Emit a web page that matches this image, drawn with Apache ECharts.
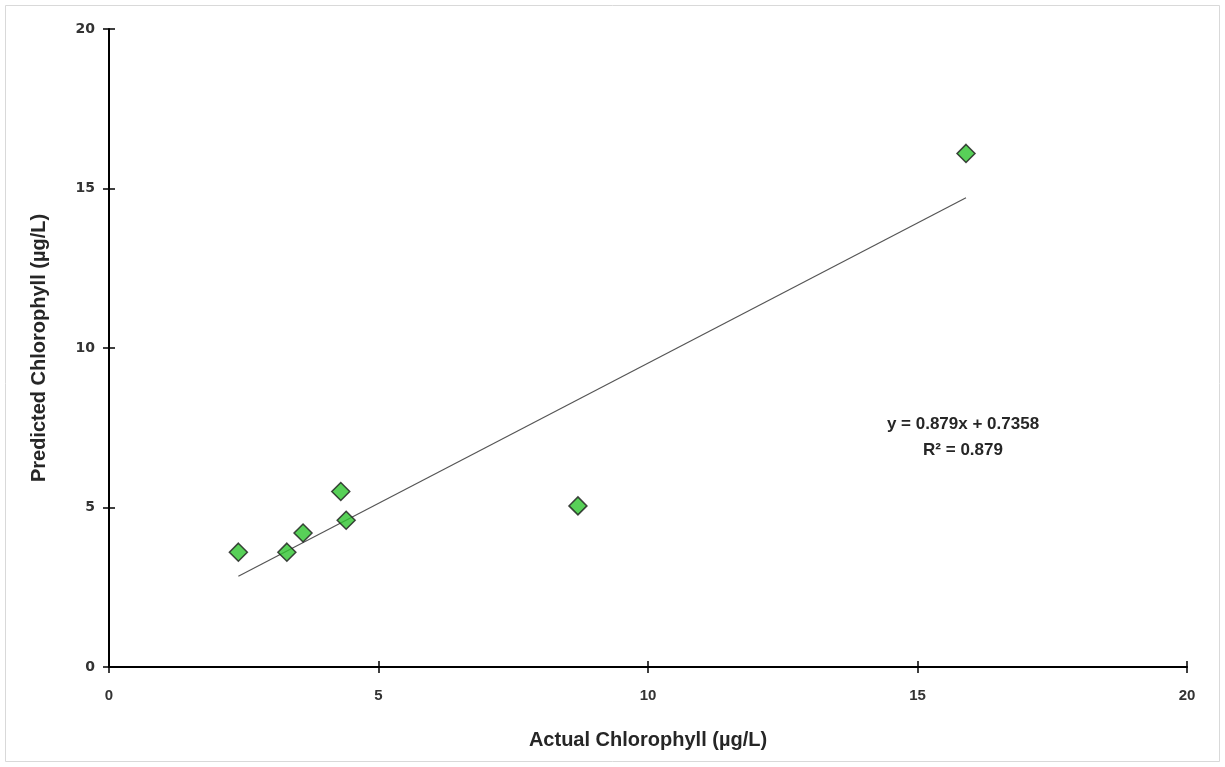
<!DOCTYPE html>
<html>
<head>
<meta charset="utf-8">
<script src="https://cdn.jsdelivr.net/npm/echarts@6/dist/echarts.min.js"></script>
<style>
  html, body { margin: 0; padding: 0; background: #fff; }
  #chart { width: 1225px; height: 767px; }
</style>
</head>
<body>
<div id="chart"></div>
<script>
// 实测值与预测值
var actual = [2.4, 3.3, 3.6, 4.3, 4.4, 8.7, 15.9];
var predicted = [3.6, 3.6, 4.2, 5.5, 4.6, 5.05, 16.1];

// 趋势线 y = 0.879x + 0.7358
var slope = 0.879;
var intercept = 0.7358;
var r2 = 0.879;
var axisTicks = [0, 5, 10, 15, 20];

var chart = echarts.init(document.getElementById('chart'));

var points = actual.map(function (x, i) { return [x, predicted[i]]; });
var xMin = Math.min.apply(null, actual);
var xMax = Math.max.apply(null, actual);
var trend = [[xMin, slope * xMin + intercept], [xMax, slope * xMax + intercept]];

var font = 'Liberation Sans, Arial, sans-serif';

var axisBase = {
  type: 'value',
  min: axisTicks[0],
  max: axisTicks[axisTicks.length - 1],
  interval: 5,
  splitLine: { show: false }
};

var option = {
  animation: false,
  backgroundColor: '#fff',
  grid: { left: 109, right: 38, top: 29, bottom: 100 },
  xAxis: [
    Object.assign({}, axisBase, {
      name: 'Actual Chlorophyll (µg/L)',
      nameLocation: 'middle',
      nameGap: 63,
      nameTextStyle: { fontFamily: font, fontWeight: 'bold', fontSize: 20, color: '#262626' },
      axisLine: { lineStyle: { color: '#000', width: 2 } },
      axisTick: { length: 6, lineStyle: { color: '#000', width: 1.5 } },
      axisLabel: { margin: 21, fontFamily: font, fontWeight: 'bold', fontSize: 15, color: '#333' }
    }),
    Object.assign({}, axisBase, {
      position: 'bottom',
      axisLine: { show: false },
      axisTick: { inside: true, length: 6, lineStyle: { color: '#000', width: 1.5 } },
      axisLabel: { show: false }
    })
  ],
  yAxis: [
    Object.assign({}, axisBase, {
      name: 'Predicted Chlorophyll (µg/L)',
      nameLocation: 'middle',
      nameGap: 60,
      nameTextStyle: { fontFamily: font, fontWeight: 'bold', fontSize: 20, color: '#262626' },
      axisLine: { lineStyle: { color: '#000', width: 2 } },
      axisTick: { length: 6, lineStyle: { color: '#000', width: 1.5 } },
      axisLabel: { margin: 14, fontFamily: 'DejaVu Sans', fontWeight: 'bold', fontSize: 14, color: '#333' }
    }),
    Object.assign({}, axisBase, {
      position: 'left',
      axisLine: { show: false },
      axisTick: { inside: true, length: 6, lineStyle: { color: '#000', width: 1.5 } },
      axisLabel: { show: false }
    })
  ],
  series: [
    {
      name: '趋势线',
      type: 'line',
      data: trend,
      symbol: 'none',
      lineStyle: { color: '#555', width: 1.2 },
      z: 2
    },
    {
      name: 'Chlorophyll',
      type: 'scatter',
      data: points,
      symbol: 'diamond',
      symbolSize: [18, 18],
      itemStyle: { color: '#2ec42e', borderColor: '#1a1a1a', borderWidth: 1.5 },
      z: 3
    }
  ],
  graphic: [
    {
      type: 'rect',
      shape: { x: 5.5, y: 5.5, width: 1214, height: 756 },
      style: { fill: 'none', stroke: '#d9d9d9', lineWidth: 1 },
      silent: true
    },
    {
      type: 'text',
      x: 963, y: 424,
      style: {
        text: 'y = ' + slope + 'x + ' + intercept,
        fontFamily: font, fontWeight: 'bold', fontSize: 17,
        fill: '#262626', align: 'center', verticalAlign: 'middle'
      }
    },
    {
      type: 'text',
      x: 963, y: 450,
      style: {
        text: 'R² = ' + r2,
        fontFamily: font, fontWeight: 'bold', fontSize: 17,
        fill: '#262626', align: 'center', verticalAlign: 'middle'
      }
    }
  ]
};

chart.setOption(option);
</script>
</body>
</html>
